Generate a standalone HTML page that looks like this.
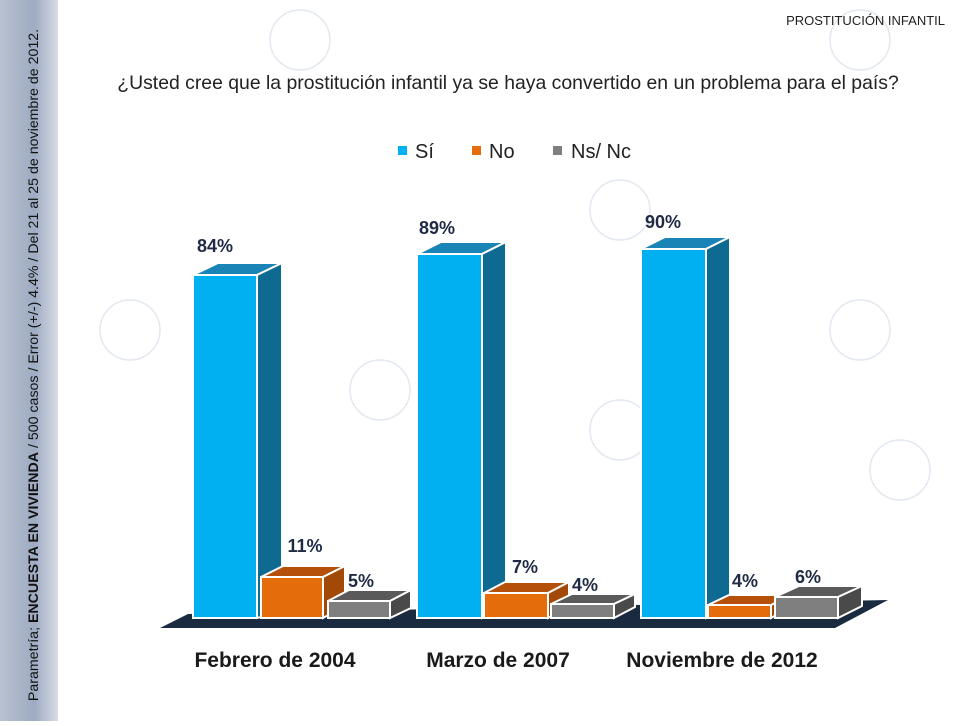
<!DOCTYPE html>
<html><head><meta charset="utf-8"><style>
body{margin:0;width:961px;height:721px;overflow:hidden;background:#fff;font-family:"Liberation Sans",sans-serif}
</style></head><body>
<svg width="961" height="721" viewBox="0 0 961 721" xmlns="http://www.w3.org/2000/svg" font-family="Liberation Sans, sans-serif">
<defs><linearGradient id="strip" x1="0" x2="1"><stop offset="0" stop-color="#b9c1cf"/><stop offset="0.6" stop-color="#9eabc2"/><stop offset="1" stop-color="#d8dde5"/></linearGradient></defs>
<rect width="961" height="721" fill="#fff"/>
<rect x="0" y="0" width="58" height="721" fill="url(#strip)"/>
<g fill="none" stroke="#e3e8f0" stroke-width="1.5">
<circle cx="300" cy="40" r="30"/><circle cx="860" cy="40" r="30"/><circle cx="620" cy="210" r="30"/><circle cx="860" cy="330" r="30"/><circle cx="380" cy="390" r="30"/><circle cx="620" cy="430" r="30"/><circle cx="130" cy="330" r="30"/><circle cx="900" cy="470" r="30"/>
</g>
<text x="945" y="25" font-size="13" text-anchor="end" fill="#222">PROSTITUCIÓN INFANTIL</text>
<text x="508" y="89" font-size="19.4" text-anchor="middle" fill="#222">¿Usted cree que la prostitución infantil ya se haya convertido en un problema para el país?</text>
<rect x="398" y="146" width="9" height="9" fill="#00b0f0"/><text x="415" y="158" font-size="20" fill="#222">Sí</text>
<rect x="472" y="146" width="9" height="9" fill="#e46c0a"/><text x="489" y="158" font-size="20" fill="#222">No</text>
<rect x="553" y="146" width="9" height="9" fill="#7f7f7f"/><text x="571" y="158" font-size="20" fill="#222">Ns/ Nc</text>
<polygon points="160,628 835,628 888,600 188,614" fill="#1b2b3f"/>
<g stroke="#fff" stroke-width="2">
<polygon points="193,275 257,275 282,263 218,263" fill="#1a84b6"/><polygon points="257,275 282,263 282,612 257,618" fill="#0f6a91"/><rect x="193" y="275" width="64" height="343" fill="#00b0f0"/>
<polygon points="261,577 323,577 345,566 283,566" fill="#b5500a"/><polygon points="323,577 345,566 345,606 323,618" fill="#a34908"/><rect x="261" y="577" width="62" height="41" fill="#e46c0a"/>
<polygon points="328,601 390,601 411,590 349,590" fill="#5a5a5a"/><polygon points="390,601 411,590 411,608 390,618" fill="#4a4a4a"/><rect x="328" y="601" width="62" height="17" fill="#7f7f7f"/>
<polygon points="417,254 482,254 506,242 441,242" fill="#1a84b6"/><polygon points="482,254 506,242 506,608 482,618" fill="#0f6a91"/><rect x="417" y="254" width="65" height="364" fill="#00b0f0"/>
<polygon points="484,593 548,593 569,582 505,582" fill="#b5500a"/><polygon points="548,593 569,582 569,606 548,618" fill="#a34908"/><rect x="484" y="593" width="64" height="25" fill="#e46c0a"/>
<polygon points="551,604 614,604 635,594 572,594" fill="#5a5a5a"/><polygon points="614,604 635,594 635,607 614,618" fill="#4a4a4a"/><rect x="551" y="604" width="63" height="14" fill="#7f7f7f"/>
<polygon points="641,249 706,249 730,237 665,237" fill="#1a84b6"/><polygon points="706,249 730,237 730,605 706,618" fill="#0f6a91"/><rect x="641" y="249" width="65" height="369" fill="#00b0f0"/>
<polygon points="708,605 771,605 792,595 729,595" fill="#b5500a"/><polygon points="771,605 792,595 792,606 771,618" fill="#a34908"/><rect x="708" y="605" width="63" height="13" fill="#e46c0a"/>
<polygon points="775,597 838,597 862,586 799,586" fill="#5a5a5a"/><polygon points="838,597 862,586 862,606 838,618" fill="#4a4a4a"/><rect x="775" y="597" width="63" height="21" fill="#7f7f7f"/>
</g>
<g font-size="18" font-weight="bold" fill="#1f2a44" text-anchor="middle">
<text x="215" y="252">84%</text><text x="437" y="234">89%</text><text x="663" y="228">90%</text>
<text x="305" y="552">11%</text><text x="361" y="587">5%</text><text x="525" y="573">7%</text><text x="585" y="591">4%</text><text x="745" y="587">4%</text><text x="808" y="583">6%</text>
</g>
<g font-size="21" font-weight="bold" fill="#1a1a1a" text-anchor="middle">
<text x="275" y="667">Febrero de 2004</text><text x="498" y="667">Marzo de 2007</text><text x="722" y="667">Noviembre de 2012</text>
</g>
<text transform="translate(38,365) rotate(-90)" font-size="14.2" text-anchor="middle" fill="#111">Parametría; <tspan font-weight="bold">ENCUESTA EN VIVIENDA</tspan> / 500 casos / Error (+/-) 4.4% / Del 21 al 25 de noviembre de 2012.</text>
</svg>
</body></html>
